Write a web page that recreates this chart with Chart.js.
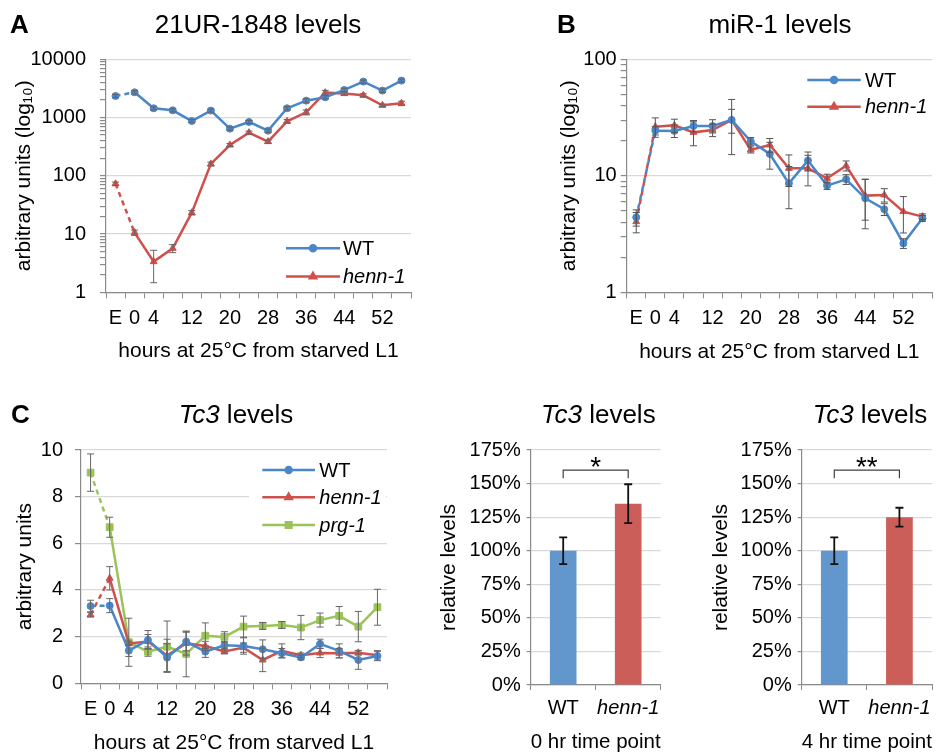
<!DOCTYPE html>
<html><head><meta charset="utf-8">
<script src="https://cdn.jsdelivr.net/npm/chart.js@4.4.1/dist/chart.umd.min.js"></script>
<style>
html,body{margin:0;padding:0;background:#fff;}
#wrap{position:relative;width:938px;height:756px;overflow:hidden;background:#fff;}
canvas{position:absolute;left:0;top:0;}
</style></head><body>
<div id="wrap">
<canvas id="cA" width="938" height="756"></canvas>
<canvas id="cB" width="938" height="756"></canvas>
<canvas id="cC" width="938" height="756"></canvas>
<canvas id="cD" width="938" height="756"></canvas>
<canvas id="cE" width="938" height="756"></canvas>
</div>
<script>
// ---------------- data ----------------
const hours = ['E','0','4','8','12','16','20','24','28','32','36','40','44','48','52','56'];
const shownHourLabels = ['E','0','4','12','20','28','36','44','52'];

// Panel A: 21UR-1848 (log scale)
const wtA      = [2345, 2713, 1442, 1331, 873, 1315, 645, 840, 596, 1442, 1950, 2226, 2978, 4140, 2900, 4305];
const wtAErr   = [150, 180, 90, 80, 50, 80, 40, 50, 40, 100, 150, 150, 200, 250, 200, 250];
const hennA    = [73, 10.6, 3.36, 5.69, 23.3, 160, 338, 551, 386, 863, 1230, 2678, 2576, 2410, 1622, 1756];
const hennAErr = [5, 1.1, 1.9, 0.9, 2.0, 12, 20, 35, 25, 60, 120, 250, 150, 150, 80, 150];

// Panel B: miR-1 (log scale)
const wtB      = [4.40, 24.4, 24.3, 26.8, 26.8, 30.2, 19.8, 15.4, 8.62, 13.5, 8.24, 9.33, 6.41, 5.16, 2.63, 4.32];
const wtBErr   = [0.7, 2.0, 3.0, 3.0, 3.5, 7.0, 1.5, 4.0, 3.4, 2.5, 0.6, 0.9, 2.9, 0.6, 0.25, 0.25];
const hennB    = [4.04, 26.4, 27.1, 23.6, 24.7, 30.2, 16.7, 18.4, 11.6, 11.6, 9.52, 12.2, 6.76, 6.85, 4.93, 4.46];
const hennBErr = [0.8, 5.0, 3.5, 5.5, 3.0, 15, 1.0, 2.5, 3.5, 3.4, 0.8, 1.2, 2.6, 0.9, 1.7, 0.25];

// Panel C: Tc3 time course (linear)
const wtC      = [3.31, 3.33, 1.40, 1.86, 1.10, 1.79, 1.36, 1.63, 1.60, 1.46, 1.29, 1.11, 1.69, 1.39, 1.00, 1.17];
const wtCErr   = [0.25, 0.3, 0.25, 0.4, 0.6, 0.4, 0.25, 0.15, 0.35, 0.4, 0.2, 0.1, 0.2, 0.3, 0.4, 0.2];
const hennC    = [2.94, 4.50, 1.71, 1.79, 1.19, 1.71, 1.60, 1.36, 1.53, 1.00, 1.39, 1.20, 1.30, 1.29, 1.31, 1.20];
const hennCErr = [0.1, 0.5, 0.1, 0.3, 0.7, 0.5, 0.2, 0.1, 0.2, 0.5, 0.3, 0.1, 0.2, 0.2, 0.1, 0.2];
const prgC     = [9.03, 6.69, 1.76, 1.36, 1.57, 1.26, 2.04, 1.99, 2.43, 2.46, 2.50, 2.39, 2.71, 2.89, 2.43, 3.26];
const prgCErr  = [0.8, 0.43, 1.03, 0.2, 1.1, 0.98, 0.55, 0.22, 0.45, 0.15, 0.15, 0.52, 0.3, 0.4, 0.65, 0.77];

// Bar panels: relative Tc3 levels (%)
const strains   = ['WT', 'henn-1'];
const tc3At0h   = [100, 135];
const tc3At0hErr= [10, 14.5];
const tc3At4h   = [100, 125];
const tc3At4hErr= [10, 7];
const bracketLevel = 160;

// ---------------- styling ----------------
const FONT = "'Liberation Sans', Arial, Helvetica, sans-serif";
const BLUE = '#4a87c9', RED = '#d0504c', GREEN = '#9cc35a';
const BLUE_BAR = '#6197cd', RED_BAR = '#cc5e59';
const AXIS = '#8a8a8a', GRID = '#d9d9d9';
const PW = 938, PH = 756;

Chart.defaults.font.family = FONT;
Chart.defaults.color = '#000';

function frame(area, yTitleX, xTitleY) {
  const lh = 21 * 1.2;
  const padLeft = yTitleX - lh / 2;
  const padBottom = PH - (xTitleY + lh / 2);
  return {
    padding: {left: padLeft, right: PW - area.r, top: area.t, bottom: padBottom},
    yWidth: area.l - padLeft,
    xHeight: (PH - padBottom) - area.b
  };
}

function isPow10(v){ const l = Math.log10(v); return Math.abs(l - Math.round(l)) < 1e-9; }
function logTicks(min, max){
  const t = [];
  for (let e = Math.round(Math.log10(min)); Math.pow(10, e) < max; e++) {
    for (let k = 1; k < 10; k++) t.push(k * Math.pow(10, e));
  }
  t.push(max);
  return t;
}

// ---------------- plugins ----------------
const errorBars = {
  id: 'errorBars',
  afterDatasetsDraw(chart, args, o) {
    const ctx = chart.ctx, ys = chart.scales.y;
    ctx.save();
    ctx.strokeStyle = o.color; ctx.lineWidth = o.width;
    chart.data.datasets.forEach((ds, di) => {
      if (!ds.errors) return;
      const meta = chart.getDatasetMeta(di);
      meta.data.forEach((el, i) => {
        const v = ds.data[i], e = ds.errors[i];
        if (v == null || e == null) return;
        let lo = v - e;
        if (ys.type === 'logarithmic' && lo <= 0) lo = ys.min * 0.5;
        const yt = ys.getPixelForValue(v + e), yb = ys.getPixelForValue(lo);
        const x = el.x;
        ctx.beginPath();
        ctx.moveTo(x, yt); ctx.lineTo(x, yb);
        ctx.moveTo(x - o.cap, yt); ctx.lineTo(x + o.cap, yt);
        ctx.moveTo(x - o.cap, yb); ctx.lineTo(x + o.cap, yb);
        ctx.stroke();
      });
    });
    ctx.restore();
  }
};

const lineLegend = {
  id: 'lineLegend',
  afterDraw(chart, args, o) {
    if (!o.items) return;
    const ctx = chart.ctx;
    ctx.save();
    if (o.bg) { ctx.fillStyle = '#fff'; ctx.fillRect(o.bg[0], o.bg[1], o.bg[2], o.bg[3]); }
    o.items.forEach((it, i) => {
      const y = o.ys[i];
      ctx.strokeStyle = it.color; ctx.lineWidth = 2.5;
      ctx.beginPath(); ctx.moveTo(o.x1, y); ctx.lineTo(o.x2, y); ctx.stroke();
      ctx.fillStyle = it.color;
      Chart.helpers.drawPoint(ctx, {pointStyle: it.style, radius: it.r, rotation: 0, borderWidth: 1}, (o.x1 + o.x2) / 2, y);
      ctx.fillStyle = '#000';
      ctx.font = (it.italic ? 'italic ' : '') + '20px ' + FONT;
      ctx.textBaseline = 'middle'; ctx.textAlign = 'left';
      ctx.fillText(it.label, o.textX, y + 1);
    });
    ctx.restore();
  }
};

const headings = {
  id: 'headings',
  afterDraw(chart, args, o) {
    if (!o.items) return;
    const ctx = chart.ctx;
    ctx.save();
    ctx.fillStyle = '#000'; ctx.textBaseline = 'alphabetic'; ctx.textAlign = 'left';
    o.items.forEach(h => {
      const fonts = h.parts.map(p => (p.italic ? 'italic ' : '') + (h.bold ? 'bold ' : '') + h.size + 'px ' + FONT);
      let total = 0;
      const widths = h.parts.map((p, i) => { ctx.font = fonts[i]; const w = ctx.measureText(p.t).width; total += w; return w; });
      let x = h.align === 'left' ? h.x : h.x - total / 2;
      h.parts.forEach((p, i) => { ctx.font = fonts[i]; ctx.fillText(p.t, x, h.y); x += widths[i]; });
    });
    ctx.restore();
  }
};

const bracket = {
  id: 'bracket',
  afterDraw(chart, args, o) {
    if (o.level == null) return;
    const ctx = chart.ctx, ys = chart.scales.y;
    const meta = chart.getDatasetMeta(0);
    const x0 = meta.data[0].x, x1 = meta.data[1].x;
    const y = ys.getPixelForValue(o.level), yd = ys.getPixelForValue(o.level - o.drop);
    ctx.save();
    ctx.strokeStyle = '#404040'; ctx.lineWidth = 1.2;
    ctx.beginPath();
    ctx.moveTo(x0, yd); ctx.lineTo(x0, y); ctx.lineTo(x1, y); ctx.lineTo(x1, yd);
    ctx.stroke();
    ctx.fillStyle = '#000'; ctx.font = '28px ' + FONT; ctx.textAlign = 'center'; ctx.textBaseline = 'alphabetic';
    ctx.fillText(o.label, (x0 + x1) / 2, y + 6);
    ctx.restore();
  }
};

Chart.register(errorBars, lineLegend, headings, bracket);

// ---------------- builders ----------------
function lineDataset(label, data, errors, color, style, r) {
  return {
    label, data, errors,
    borderColor: color, backgroundColor: color,
    borderWidth: 2.5, tension: 0,
    pointStyle: style, pointRadius: r, pointHoverRadius: r, pointBorderWidth: 1,
    segment: { borderDash: ctx => ctx.p0DataIndex === 0 ? [5, 4] : undefined }
  };
}

function xCategoryScale(f, title) {
  return {
    type: 'category', offset: true,
    grid: {offset: true, drawOnChartArea: false, drawTicks: true, tickLength: 6, color: AXIS, tickColor: AXIS},
    border: {color: AXIS, width: 1.2},
    ticks: {
      autoSkip: false, maxRotation: 0, minRotation: 0, padding: 8,
      font: {size: 20},
      callback: function(v){ const l = this.getLabelForValue(v); return shownHourLabels.includes(l) ? l : ''; }
    },
    title: {display: true, text: title, font: {size: 21, lineHeight: 1.2}, padding: 0},
    afterFit: s => { s.height = f.xHeight; }
  };
}

function logYScale(f, min, max, title, pad) {
  return {
    type: 'logarithmic', min, max,
    afterBuildTicks: s => { s.ticks = logTicks(min, max).map(v => ({value: v, major: isPow10(v)})); },
    grid: {
      color: c => (c.tick && c.tick.major) ? GRID : 'rgba(0,0,0,0)',
      tickColor: AXIS, tickLength: 6, lineWidth: 1.2
    },
    border: {color: AXIS, width: 1.2},
    ticks: {autoSkip: false, padding: pad, font: {size: 20},
      callback: v => isPow10(v) ? String(Math.round(v)) : ''},
    title: {display: true, text: title, font: {size: 21, lineHeight: 1.2}, padding: 0},
    afterFit: s => { s.width = f.yWidth; }
  };
}

function baseOptions(f) {
  return {
    responsive: false, animation: false, devicePixelRatio: 1,
    layout: {padding: f.padding},
    events: [],
    plugins: {legend: {display: false}, title: {display: false}, tooltip: {enabled: false}}
  };
}

// ---------------- Panel A ----------------
const fA = frame({l: 106, t: 59.3, r: 411, b: 292.3}, 24, 351.7);
new Chart(document.getElementById('cA'), {
  type: 'line',
  data: {labels: hours, datasets: [
    lineDataset('WT', wtA, wtAErr, BLUE, 'circle', 3.5),
    lineDataset('henn-1', hennA, hennAErr, RED, 'triangle', 4)
  ]},
  options: Object.assign(baseOptions(fA), {
    scales: {
      x: xCategoryScale(fA, 'hours at 25°C from starved L1'),
      y: logYScale(fA, 1, 10000, 'arbitrary units (log₁₀)', 14)
    },
    plugins: {
      legend: {display: false}, title: {display: false}, tooltip: {enabled: false},
      errorBars: {color: '#666', width: 1, cap: 3.5},
      lineLegend: {x1: 286, x2: 340, textX: 343, ys: [248.3, 276.5], items: [
        {label: 'WT', color: BLUE, style: 'circle', r: 3},
        {label: 'henn-1', color: RED, style: 'triangle', r: 3.5, italic: true}
      ]},
      headings: {items: [
        {x: 10, y: 33.3, size: 26, bold: true, align: 'left', parts: [{t: 'A'}]},
        {x: 258, y: 33.3, size: 26, parts: [{t: '21UR-1848 levels'}]}
      ]}
    }
  })
});

// ---------------- Panel B ----------------
const fB = frame({l: 626.7, t: 59.3, r: 932, b: 292.3}, 569.5, 352.7);
new Chart(document.getElementById('cB'), {
  type: 'line',
  data: {labels: hours, datasets: [
    lineDataset('WT', wtB, wtBErr, BLUE, 'circle', 3.5),
    lineDataset('henn-1', hennB, hennBErr, RED, 'triangle', 4)
  ]},
  options: Object.assign(baseOptions(fB), {
    scales: {
      x: xCategoryScale(fB, 'hours at 25°C from starved L1'),
      y: logYScale(fB, 1, 100, 'arbitrary units (log₁₀)', 4)
    },
    plugins: {
      legend: {display: false}, title: {display: false}, tooltip: {enabled: false},
      errorBars: {color: '#555', width: 1, cap: 3.5},
      lineLegend: {x1: 807.3, x2: 860.7, textX: 865, ys: [80, 106.7], items: [
        {label: 'WT', color: BLUE, style: 'circle', r: 3},
        {label: 'henn-1', color: RED, style: 'triangle', r: 3.5, italic: true}
      ]},
      headings: {items: [
        {x: 557, y: 33.3, size: 26, bold: true, align: 'left', parts: [{t: 'B'}]},
        {x: 780, y: 33.3, size: 26, parts: [{t: 'miR-1 levels'}]}
      ]}
    }
  })
});

// ---------------- Panel C (line) ----------------
const fC = frame({l: 81, t: 450, r: 387, b: 683.3}, 25, 743.3);
new Chart(document.getElementById('cC'), {
  type: 'line',
  data: {labels: hours, datasets: [
    lineDataset('WT', wtC, wtCErr, BLUE, 'circle', 3.5),
    lineDataset('henn-1', hennC, hennCErr, RED, 'triangle', 4),
    lineDataset('prg-1', prgC, prgCErr, GREEN, 'rect', 4.8)
  ]},
  options: Object.assign(baseOptions(fC), {
    scales: {
      x: xCategoryScale(fC, 'hours at 25°C from starved L1'),
      y: {
        type: 'linear', min: 0, max: 10,
        grid: {color: GRID, tickColor: AXIS, tickLength: 6, lineWidth: 1.2},
        border: {color: AXIS, width: 1.2},
        ticks: {stepSize: 2, padding: 12, font: {size: 20}},
        title: {display: true, text: 'arbitrary units', font: {size: 21, lineHeight: 1.2}, padding: 0},
        afterFit: s => { s.width = fC.yWidth; }
      }
    },
    plugins: {
      legend: {display: false}, title: {display: false}, tooltip: {enabled: false},
      errorBars: {color: '#666', width: 1, cap: 3.5},
      lineLegend: {x1: 262.3, x2: 315, textX: 319.3, ys: [470, 497.3, 525], bg: [249, 456, 137, 84], items: [
        {label: 'WT', color: BLUE, style: 'circle', r: 3},
        {label: 'henn-1', color: RED, style: 'triangle', r: 3.5, italic: true},
        {label: 'prg-1', color: GREEN, style: 'rect', r: 4, italic: true}
      ]},
      headings: {items: [
        {x: 11, y: 423.3, size: 26, bold: true, align: 'left', parts: [{t: 'C'}]},
        {x: 236, y: 423.3, size: 26, parts: [{t: 'Tc3', italic: true}, {t: ' levels'}]}
      ]}
    }
  })
});

// ---------------- Bar panels ----------------
function barChart(id, area, yTitleX, xTitle, values, errs, label, titleX) {
  const f = frame(area, yTitleX, 742.7);
  return new Chart(document.getElementById(id), {
    type: 'bar',
    data: {labels: strains, datasets: [{
      data: values, errors: errs,
      backgroundColor: [BLUE_BAR, RED_BAR],
      borderWidth: 0, barPercentage: 0.41, categoryPercentage: 1
    }]},
    options: Object.assign(baseOptions(f), {
      scales: {
        x: {
          type: 'category', offset: true,
          grid: {offset: true, drawOnChartArea: false, tickLength: 5, color: AXIS, tickColor: AXIS},
          border: {color: AXIS, width: 1.2},
          ticks: {padding: 6, maxRotation: 0, autoSkip: false,
            font: c => ({size: 20, style: c.index === 1 ? 'italic' : 'normal'})},
          title: {display: true, text: xTitle, font: {size: 21, lineHeight: 1.2}, padding: 0},
          afterFit: s => { s.height = f.xHeight; }
        },
        y: {
          type: 'linear', min: 0, max: 175,
          grid: {color: GRID, tickColor: AXIS, tickLength: 4, lineWidth: 1.2},
          border: {color: AXIS, width: 1.2},
          ticks: {stepSize: 25, padding: 6, font: {size: 20}, callback: v => v + '%'},
          title: {display: true, text: 'relative levels', font: {size: 21, lineHeight: 1.2}, padding: 0},
          afterFit: s => { s.width = f.yWidth; }
        }
      },
      plugins: {
        legend: {display: false}, title: {display: false}, tooltip: {enabled: false},
        errorBars: {color: '#111', width: 1.8, cap: 4},
        bracket: {level: bracketLevel, drop: 6, label},
        headings: {items: [
          {x: titleX, y: 423.3, size: 26, parts: [{t: 'Tc3', italic: true}, {t: ' levels'}]}
        ]}
      }
    })
  });
}
barChart('cD', {l: 530.7, t: 450, r: 660.7, b: 685}, 449, '0 hr time point', tc3At0h, tc3At0hErr, '*', 598.3);
barChart('cE', {l: 801.7, t: 450, r: 932.3, b: 685}, 721, '4 hr time point', tc3At4h, tc3At4hErr, '**', 870);
</script>
</body></html>
